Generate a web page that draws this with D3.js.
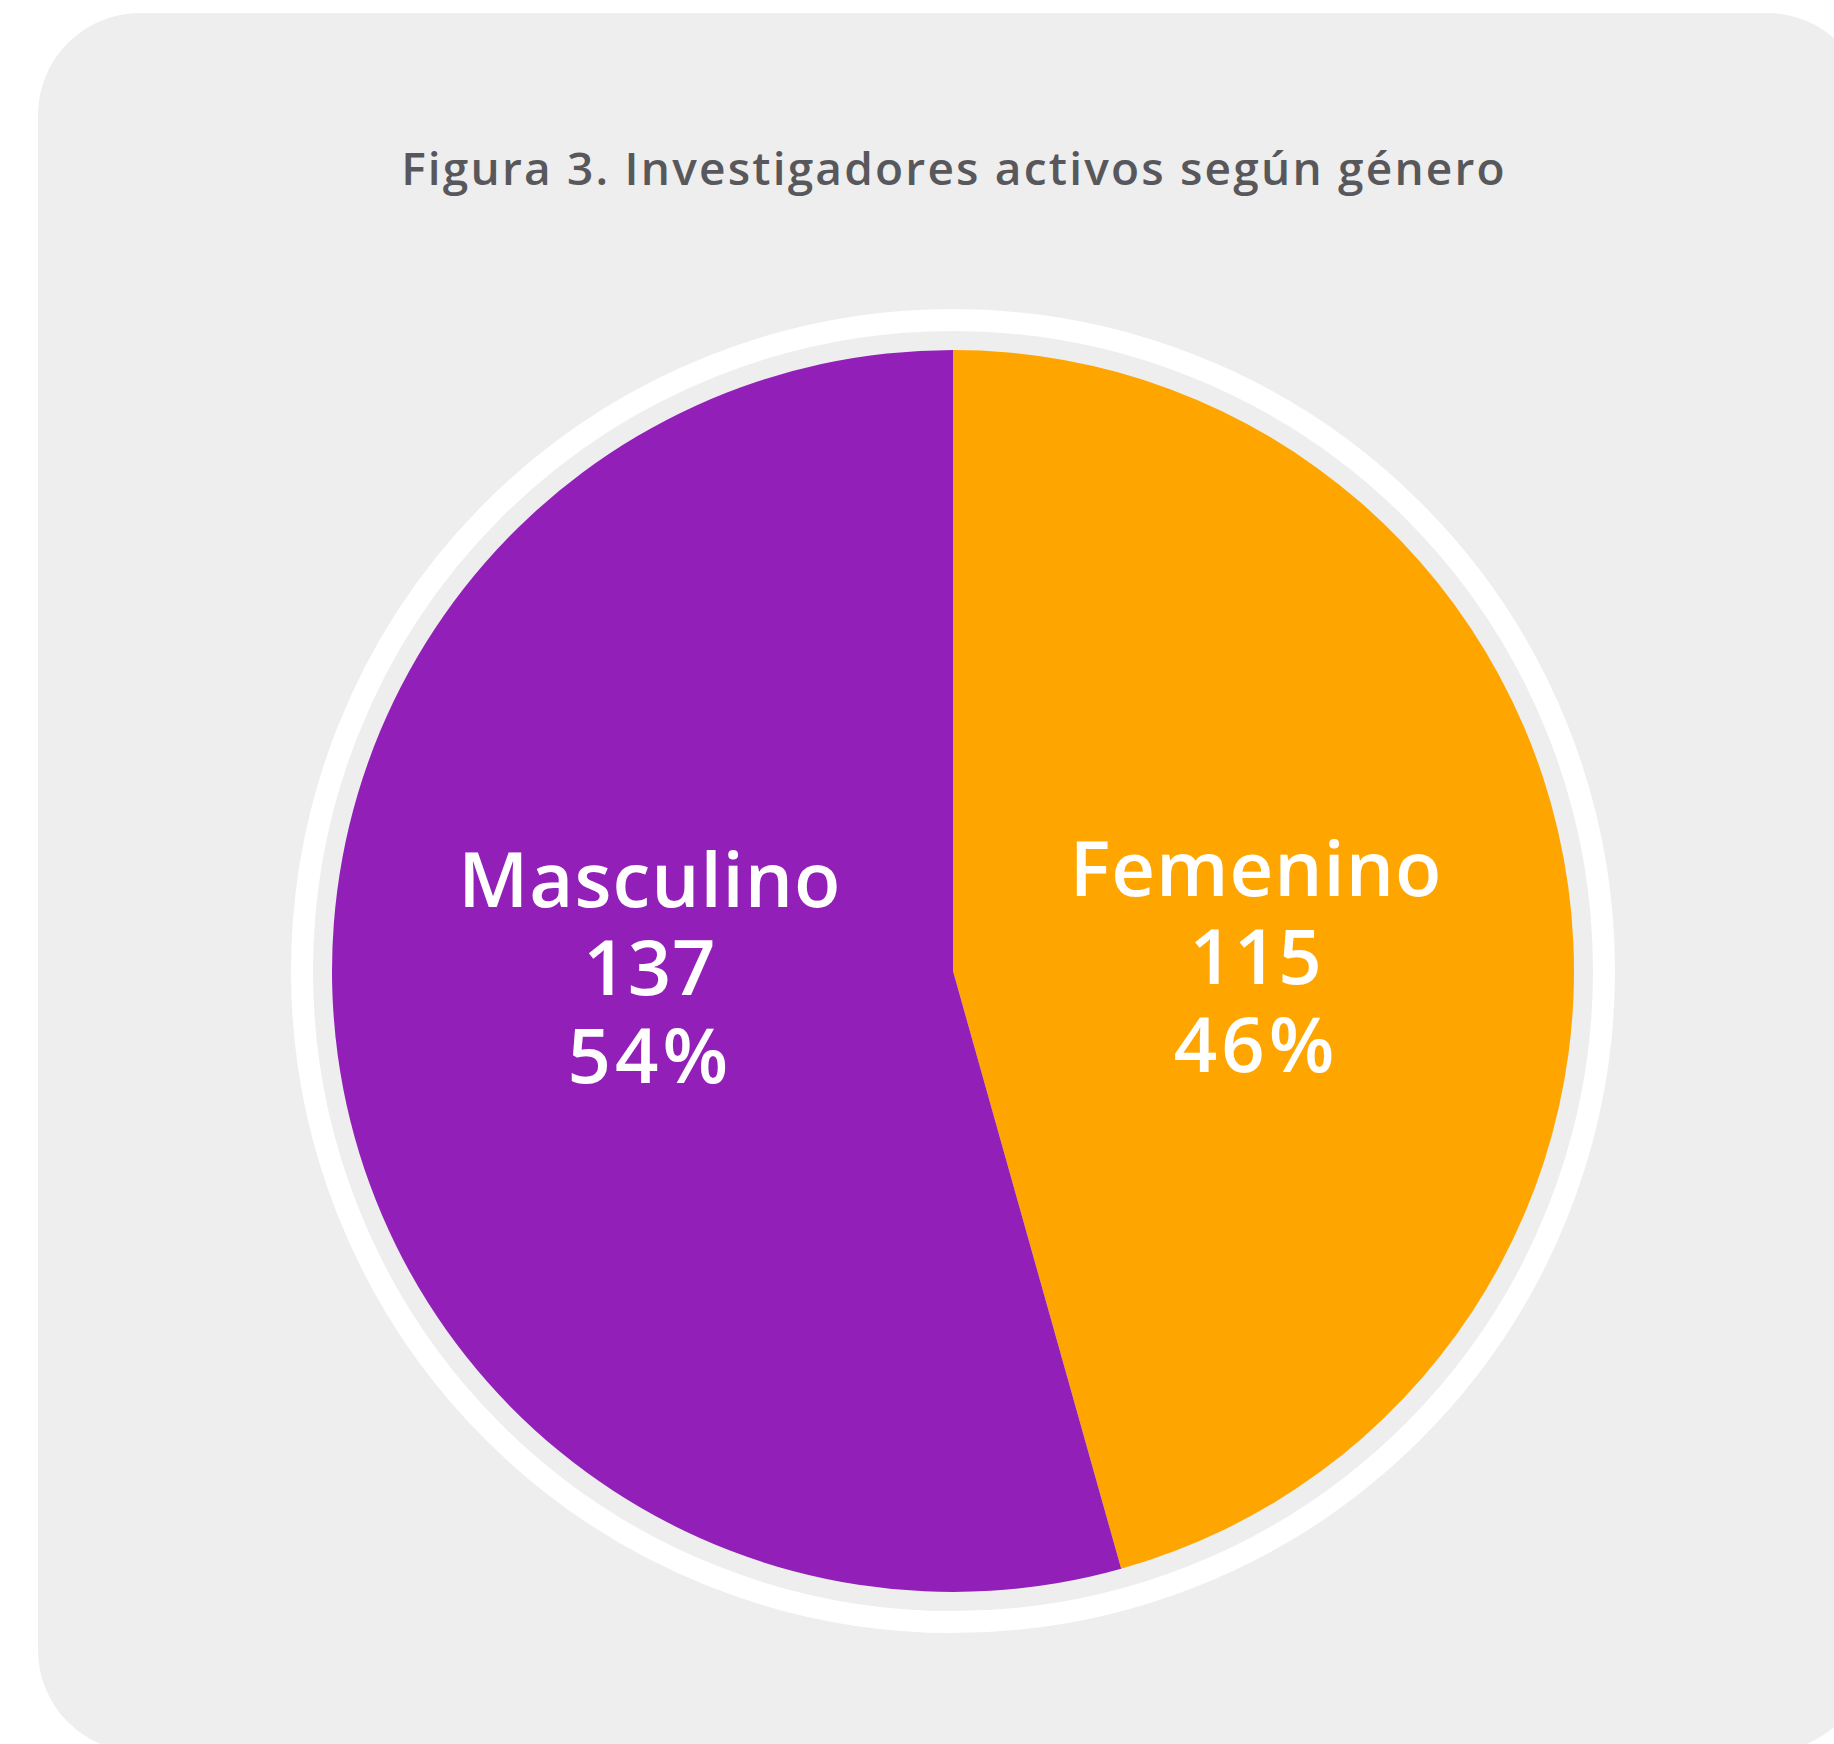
<!DOCTYPE html>
<html>
<head>
<meta charset="utf-8">
<script src="https://cdn.jsdelivr.net/npm/d3@7"></script>
<style>
  html, body { margin: 0; padding: 0; background: #fff; }
  svg { display: block; }
</style>
</head>
<body>
<svg id="chart" width="1834" height="1744"></svg>
<script>
// data
const categories = ["Femenino", "Masculino"];
const counts = [115, 137];
const percents = ["46%", "54%"];
const colors = ["#FFA500", "#9220B8"];
const title = "Figura 3. Investigadores activos según género";

const cx = 953, cy = 971, R = 621;
const font = "'Open Sans', Lato, sans-serif";

const svg = d3.select("#chart");

// card background
svg.append("rect")
  .attr("x", 38).attr("y", 13)
  .attr("width", 1831).attr("height", 1739)
  .attr("rx", 102).attr("ry", 102)
  .attr("fill", "#EDEEED");

svg.append("text")
  .attr("x", cx + 1).attr("y", 185)
  .attr("text-anchor", "middle")
  .style("font-family", font)
  .style("font-weight", 600)
  .style("font-size", "46px")
  .style("letter-spacing", "2.2px")
  .style("fill", "#58585C")
  .text(title);

const g = svg.append("g").attr("transform", `translate(${cx},${cy})`);

// white outer ring
g.append("circle")
  .attr("r", 651)
  .attr("fill", "none")
  .attr("stroke", "#fff")
  .attr("stroke-width", 22);

const rows = categories.map((c, i) => ({ name: c, value: counts[i], pct: percents[i], color: colors[i] }));

const pie = d3.pie().value(d => d.value).sort(null);
const arc = d3.arc().innerRadius(0).outerRadius(R);
const labelArc = d3.arc().innerRadius(306).outerRadius(306);

const arcs = pie(rows);

g.selectAll("path.slice").data(arcs).enter().append("path")
  .attr("class", "slice")
  .attr("d", arc)
  .attr("fill", d => d.data.color);

const lineH = 88;
const labels = g.selectAll("text.lbl").data(arcs).enter().append("text")
  .attr("class", "lbl")
  .attr("text-anchor", "middle")
  .attr("transform", d => {
    const [x, y] = labelArc.centroid(d);
    return `translate(${x},${18.5 + 0.13 * y})`;
  })
  .style("font-family", font)
  .style("font-weight", 600)
  .style("font-size", "76px")
  .style("fill", "#fff");

labels.each(function(d) {
  const t = d3.select(this);
  [d.data.name, String(d.data.value), d.data.pct].forEach((s, i) => {
    t.append("tspan").attr("x", 0).attr("y", (i - 1) * lineH)
      .style("letter-spacing", i === 2 ? "4px" : "1px")
      .text(s);
  });
});
</script>
</body>
</html>
